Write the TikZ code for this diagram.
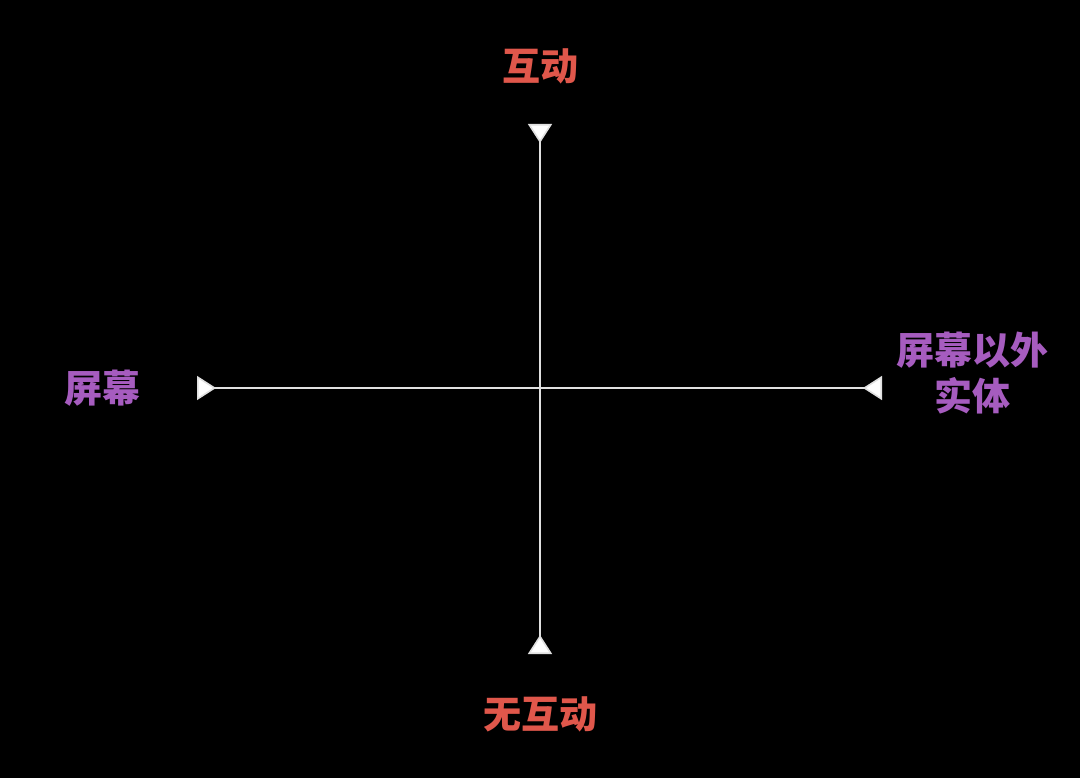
\documentclass[tikz,border=0pt]{standalone}
\usepackage{fontspec}
\usepackage{xcolor}
\usepackage{tikz}
\usetikzlibrary{arrows.meta,positioning}
\newfontfamily\cjk{Noto Sans CJK SC}
\definecolor{redlab}{HTML}{E0574B}
\definecolor{purplab}{HTML}{A65CBF}
\definecolor{axline}{HTML}{E0E0E0}
\tikzset{
  ax/.style={{Triangle[reversed,length=19pt,width=24pt,fill=white]}-{Triangle[reversed,length=19pt,width=24pt,fill=white]},line width=1.6pt,axline},
  lab/.style={font=\cjk\bfseries\fontsize{38}{46}\selectfont,align=center,inner sep=0pt}
}

\begin{document}
\begin{tikzpicture}[x=1pt,y=-1pt]
\fill[black] (0,0) rectangle (1080,778);
\useasboundingbox (0,0) rectangle (1080,778);
% axis ends
\coordinate (ytop) at (540,124);
\coordinate (ybot) at (540,654);
\coordinate (xlft) at (197,388);
\coordinate (xrgt) at (882,388);
\draw[ax] (ytop) -- (ybot);
\draw[ax] (xlft) -- (xrgt);
% labels
\node[lab,text=redlab] (inter) at (540,66) {互动};
\node[lab,text=redlab] (nointer) at (540,714) {无互动};
\node[lab,text=purplab] (screen) at (102,388) {屏幕};
\node[lab,text=purplab] (entity) at (972,373) {屏幕以外\\实体};
\end{tikzpicture}
\end{document}
